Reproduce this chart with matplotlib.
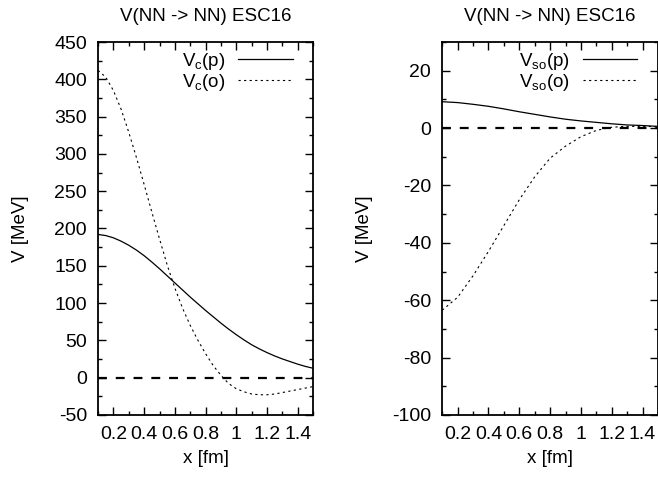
import numpy as np
import matplotlib
matplotlib.use("Agg")
import matplotlib.pyplot as plt
from matplotlib.ticker import MultipleLocator, FormatStrFormatter

plt.rcParams['font.family'] = ['Liberation Sans', 'DejaVu Sans']
plt.rcParams['mathtext.fontset'] = 'custom'
plt.rcParams['mathtext.rm'] = 'Liberation Sans'

# central potential (left panel)
x_c = [0.10, 0.15, 0.20, 0.25, 0.30, 0.35, 0.40, 0.45, 0.50, 0.55, 0.60, 0.65, 0.70, 0.75, 0.80,
       0.85, 0.90, 0.95, 1.00, 1.05, 1.10, 1.15, 1.20, 1.25, 1.30, 1.35, 1.40, 1.45, 1.50]
vc_p = [192, 190.5, 187.5, 183, 177.5, 171, 163.5, 155, 146, 136.5, 127, 117.5, 108, 99, 90,
        81.5, 73, 65, 57.5, 50.5, 44, 38.5, 33.5, 29, 25, 21.5, 18, 15, 12.5]
vc_o = [412, 403, 385, 360, 329, 295, 259, 222, 186, 151, 120, 93, 70, 50, 32,
        16, 3, -8, -15, -19, -22, -23, -23, -22, -20, -18, -16, -14, -12]

# spin-orbit potential (right panel)
x_so = [0.10, 0.20, 0.30, 0.40, 0.50, 0.60, 0.70, 0.80, 0.90, 1.00, 1.10, 1.20, 1.30, 1.40, 1.50]
vso_p = [9.2, 8.9, 8.3, 7.6, 6.7, 5.7, 4.8, 3.9, 3.1, 2.5, 2.0, 1.5, 1.1, 0.9, 0.6]
vso_o = [-63.5, -59, -51.5, -43, -34, -25, -17, -10.5, -6.3, -3, -0.8, 0.3, 0.6, 0.6, 0.5]

title = "V(NN -> NN) ESC16"
fs_tick = 14
fs_lab = 13.5

fig = plt.figure(figsize=(6.58, 4.78), dpi=100)
ax1 = fig.add_axes([0.149, 0.132, 0.327, 0.780])
ax2 = fig.add_axes([0.672, 0.132, 0.328, 0.780])


def style(ax, ylo, yhi, ymaj, ymin):
    ax.set_xlim(0.1, 1.5)
    ax.set_ylim(ylo, yhi)
    ax.xaxis.set_major_locator(MultipleLocator(0.2))
    ax.xaxis.set_minor_locator(MultipleLocator(0.1))
    ax.xaxis.set_major_formatter(FormatStrFormatter('%g'))
    ax.yaxis.set_major_locator(MultipleLocator(ymaj))
    ax.yaxis.set_minor_locator(MultipleLocator(ymin))
    ax.yaxis.set_major_formatter(FormatStrFormatter('%g'))
    ax.tick_params(which='both', direction='in', top=True, right=True, labelsize=fs_tick, colors='black')
    ax.tick_params(which='major', length=6, width=1)
    ax.tick_params(which='minor', length=3, width=1)
    ax.tick_params(axis='y', pad=8)
    ax.tick_params(axis='x', pad=8)
    for s in ax.spines.values():
        s.set_linewidth(1.3)
    ax.axhline(0, color='black', lw=1.6, dashes=(4, 4))
    ax.set_title(title, fontsize=fs_lab, pad=15)
    ax.set_xlabel("x [fm]", fontsize=fs_lab)
    ax.set_ylabel("V [MeV]", fontsize=fs_lab)
    ax.xaxis.set_label_coords(0.5, -0.095)
    ax.yaxis.set_label_coords(-0.32, 0.5)


ax1.plot(x_c, vc_p, color='black', lw=0.9, label=r'$\mathregular{V_c}$(p)')
ax1.plot(x_c, vc_o, color='black', lw=0.8, dashes=(2, 3), label=r'$\mathregular{V_c}$(o)')
style(ax1, -50, 450, 50, 25)
ax1.set_yticks(np.arange(-50, 451, 50))

ax2.plot(x_so, vso_p, color='black', lw=0.9, label=r'$\mathregular{V_{so}}$(p)')
ax2.plot(x_so, vso_o, color='black', lw=0.8, dashes=(2, 3), label=r'$\mathregular{V_{so}}$(o)')
style(ax2, -100, 30, 20, 10)
ax2.set_yticks(np.arange(-100, 21, 20))

for ax in (ax1, ax2):
    ax.legend(loc='upper right', bbox_to_anchor=(1, 1.032), markerfirst=False, frameon=False,
              fontsize=fs_lab, handlelength=2.9, labelspacing=0.0, borderaxespad=0.7,
              handletextpad=0.7)

fig.savefig("out.png", dpi=100)
